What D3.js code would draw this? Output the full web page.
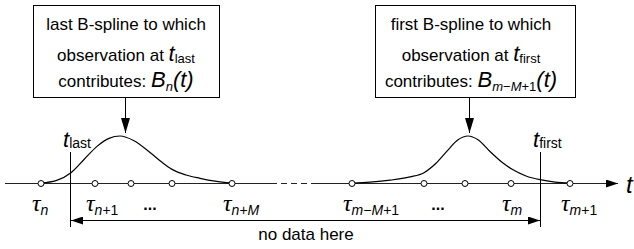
<!DOCTYPE html>
<html>
<head>
<meta charset="utf-8">
<script src="https://cdn.jsdelivr.net/npm/d3@7"></script>
<style>
  body { margin: 0; background: #fff; }
  text { font-family: "Liberation Sans", Arial, sans-serif; fill: #000; }
</style>
</head>
<body>
<div id="diagram"></div>
<script>
// knot positions along the t axis (same units as the picture width)
const knotsLast = [41, 95, 131, 172, 232];
const knotsFirst = [352, 424, 465, 511, 570];
const knotSubsLast = ['n', 'n+1', '', '', 'n+M'];
const knotSubsFirst = ['m\u2212M+1', '', '', 'm', 'm+1'];

// observation limits
const tLast = 70;
const tFirst = 540;

// shape of the two B-splines (t, relative height)
const curveLastT = [41, 56, 71, 84, 97, 109, 120, 134, 150, 162, 172, 186, 200, 215, 232];
const curveLastH = [0, 0.05, 0.22, 0.5, 0.78, 0.95, 1, 0.9, 0.65, 0.44, 0.29, 0.17, 0.1, 0.04, 0];
const curveFirstT = [352, 370, 390, 410, 424, 436, 447, 458, 468, 478, 490, 502, 513, 526, 540, 555, 570];
const curveFirstH = [0, 0.02, 0.06, 0.13, 0.22, 0.42, 0.68, 0.92, 1, 0.92, 0.67, 0.44, 0.28, 0.15, 0.07, 0.02, 0];

// axis extent and the dashed (skipped) part of it
const axisExtent = [5, 618];
const axisGap = [271, 315];
// where the box pointers hit the curves
const pointerT = [125, 469];
// where the "..." go
const dotsT = [150, 438];

const config = {
  width: 634,
  height: 249,
  axisY: 183,
  peakY: 136,
  knotRadius: 3,
  limitTop: 152,
  limitBottom: 227,
  noDataY: 220,
  boxes: [
    { x: 33, y: 5, w: 186, h: 92 },
    { x: 375, y: 5, w: 200, h: 92 },
  ],
};

const svg = d3.select('#diagram').append('svg')
  .attr('width', config.width)
  .attr('height', config.height);

const x = d3.scaleLinear().domain([0, 634]).range([0, 634]);
const y = d3.scaleLinear().domain([0, 1]).range([config.axisY, config.peakY]);

/* arrow heads */
const defs = svg.append('defs');
const addMarker = (id, len, half) => {
  defs.append('marker')
    .attr('id', id)
    .attr('viewBox', `0 0 ${len} ${half * 2}`)
    .attr('refX', len)
    .attr('refY', half)
    .attr('markerWidth', len)
    .attr('markerHeight', half * 2)
    .attr('markerUnits', 'userSpaceOnUse')
    .attr('orient', 'auto-start-reverse')
    .append('path')
    .attr('d', `M0,0L${len},${half}L0,${half * 2}Z`)
    .attr('fill', '#000');
};
addMarker('head', 12, 4);
addMarker('headBig', 15, 4.5);

/* writes math-ish text: plain, italic variables and subscripts */
function writeParts(textSel, parts, opt) {
  let shift = 0;
  parts.forEach(([str, kind]) => {
    const sub = kind.startsWith('sub');
    const target = sub ? opt.subShift : 0;
    textSel.append('tspan')
      .attr('dy', target - shift)
      .attr('font-size', sub ? opt.subSize : (kind === 'var' ? opt.varSize : opt.size))
      .attr('font-style', (kind === 'var' || kind === 'subvar') ? 'italic' : 'normal')
      .text(str);
    shift = target;
  });
  if (shift !== 0) textSel.append('tspan').attr('dy', -shift).text('');
}

/* split a subscript like "m-M+1" into italic letters and upright rest */
function subParts(s) {
  const out = [];
  s.split(/([A-Za-z]+)/).filter((p) => p !== '').forEach((p) => {
    out.push([p, /[A-Za-z]/.test(p) ? 'subvar' : 'sub']);
  });
  return out;
}

/* boxes */
const boxLines = [
  [
    [['last B-spline to which', 'txt']],
    [['observation at ', 'txt'], ['t', 'var'], ['last', 'sub']],
    [['contributes: ', 'txt'], ['B', 'var'], ['n', 'subvar'], ['(t)', 'var']],
  ],
  [
    [['first B-spline to which', 'txt']],
    [['observation at ', 'txt'], ['t', 'var'], ['first', 'sub']],
    [['contributes: ', 'txt'], ['B', 'var'], ...subParts('m\u2212M+1'), ['(t)', 'var']],
  ],
];
const lineY = [30, 61, 87];

config.boxes.forEach((b, i) => {
  svg.append('rect')
    .attr('x', b.x + 0.5).attr('y', b.y + 0.5)
    .attr('width', b.w).attr('height', b.h)
    .attr('fill', '#fff').attr('stroke', '#000').attr('stroke-width', 1);
  boxLines[i].forEach((parts, j) => {
    const t = svg.append('text')
      .attr('x', b.x + b.w / 2 - (i === 1 ? 4 : 0))
      .attr('y', lineY[j])
      .attr('text-anchor', 'middle')
      .attr('font-size', 17);
    writeParts(t, parts, { size: 17, varSize: 22, subSize: 13, subShift: j === 1 ? 2 : 4 });
  });
  svg.append('line')
    .attr('x1', x(pointerT[i]) + 0.5).attr('x2', x(pointerT[i]) + 0.5)
    .attr('y1', b.y + b.h + 0.5).attr('y2', 133)
    .attr('stroke', '#000').attr('marker-end', 'url(#headBig)');
});

/* t axis */
const axisG = svg.append('g').attr('stroke', '#222').attr('stroke-width', 1.1);
axisG.append('line')
  .attr('x1', x(axisExtent[0])).attr('x2', x(axisGap[0]))
  .attr('y1', config.axisY + 0.5).attr('y2', config.axisY + 0.5);
axisG.append('line')
  .attr('x1', x(axisGap[0])).attr('x2', x(axisGap[1]))
  .attr('y1', config.axisY + 0.5).attr('y2', config.axisY + 0.5)
  .attr('stroke-dasharray', '6,4');
axisG.append('line')
  .attr('x1', x(axisGap[1])).attr('x2', x(axisExtent[1]))
  .attr('y1', config.axisY + 0.5).attr('y2', config.axisY + 0.5)
  .attr('marker-end', 'url(#head)');

svg.append('text')
  .attr('x', x(axisExtent[1]) + 8).attr('y', config.axisY + 10)
  .attr('font-size', 24).attr('font-style', 'italic')
  .text('t');

/* observation limits */
[[tLast, 'last'], [tFirst, 'first']].forEach(([tv, name]) => {
  svg.append('line')
    .attr('x1', x(tv) + 0.5).attr('x2', x(tv) + 0.5)
    .attr('y1', config.limitTop).attr('y2', config.limitBottom)
    .attr('stroke', '#000');
  const t = svg.append('text')
    .attr('x', x(tv) - 7).attr('y', 147);
  writeParts(t, [['t', 'var'], [name, 'sub']], { size: 17, varSize: 22, subSize: 14, subShift: 1 });
});

/* no data arrow */
svg.append('line')
  .attr('x1', x(tLast) + 1).attr('x2', x(tFirst))
  .attr('y1', config.noDataY + 0.5).attr('y2', config.noDataY + 0.5)
  .attr('stroke', '#000')
  .attr('marker-start', 'url(#head)')
  .attr('marker-end', 'url(#head)');
svg.append('text')
  .attr('x', x((tLast + tFirst) / 2) + 1).attr('y', 240)
  .attr('text-anchor', 'middle').attr('font-size', 17)
  .text('no data here');

/* B-spline curves */
const line = d3.line()
  .x((d) => x(d[0]))
  .y((d) => y(d[1]))
  .curve(d3.curveMonotoneX);
[[curveLastT, curveLastH], [curveFirstT, curveFirstH]].forEach(([ts, hs]) => {
  svg.append('path')
    .attr('d', line(ts.map((t, i) => [t, hs[i]])))
    .attr('fill', 'none')
    .attr('stroke', '#000')
    .attr('stroke-width', 1.2);
});

/* knots and their labels */
const knots = knotsLast.map((k, i) => ({ t: k, sub: knotSubsLast[i] }))
  .concat(knotsFirst.map((k, i) => ({ t: k, sub: knotSubsFirst[i] })));

svg.selectAll('.knot')
  .data(knots)
  .join('circle')
  .attr('class', 'knot')
  .attr('cx', (d) => x(d.t))
  .attr('cy', config.axisY + 0.5)
  .attr('r', config.knotRadius)
  .attr('fill', '#fff')
  .attr('stroke', '#000')
  .attr('stroke-width', 1);

knots.filter((d) => d.sub !== '').forEach((d) => {
  const t = svg.append('text')
    .attr('x', x(d.t) - 9)
    .attr('y', 211);
  t.append('tspan')
    .attr('font-family', '"Liberation Serif", serif')
    .attr('font-style', 'italic')
    .attr('font-size', 24)
    .text('\u03c4');
  const sub = t.append('tspan').attr('dy', 4).attr('font-size', 14);
  subParts(d.sub).forEach(([s, kind]) => {
    sub.append('tspan')
      .attr('font-style', kind === 'subvar' ? 'italic' : 'normal')
      .text(s);
  });
});

svg.selectAll('.dots')
  .data(dotsT)
  .join('text')
  .attr('class', 'dots')
  .attr('x', (d) => x(d))
  .attr('y', 210)
  .attr('text-anchor', 'middle')
  .attr('font-size', 16)
  .attr('font-weight', 'bold')
  .text('...');
</script>
</body>
</html>
